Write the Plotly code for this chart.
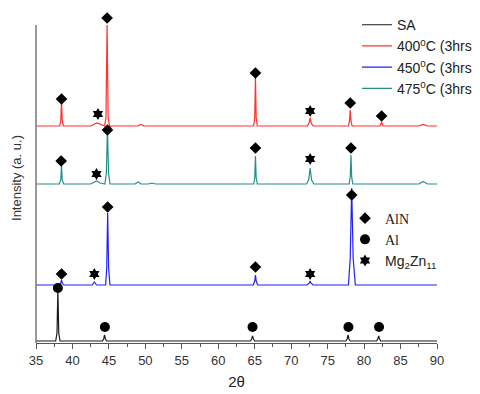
import plotly.graph_objects as go

# ---- data (2-theta, intensity in arbitrary units) ----
sa_x = [35, 37.7, 37.88, 38.0, 38.12, 38.3, 44.1, 44.28, 44.4, 44.52, 44.7,
        64.4, 64.58, 64.7, 64.82, 65.0, 77.5, 77.68, 77.8, 77.92, 78.1,
        81.7, 81.88, 82.0, 82.12, 82.3, 90]
sa_y = [2, 2, 10, 53, 10, 2, 2, 4, 8, 4, 2,
        2, 4, 7, 4, 2, 2, 4, 8, 4, 2,
        2, 4, 7, 4, 2, 2]

t400_x = [35, 38.25, 38.4, 38.5, 38.6, 38.75, 42.6, 43.0, 43.4, 43.8, 44.4,
          44.6, 44.75, 44.9, 45.05, 45.15, 45.25, 49.0, 49.4, 49.8,
          64.85, 65.0, 65.1, 65.2, 65.35, 72.2, 72.45, 72.6, 72.75, 73.0,
          77.85, 78.0, 78.1, 78.2, 78.35, 82.2, 82.3, 82.4, 82.5, 82.6,
          87.5, 88.1, 88.7, 90]
t400_y = [217, 217, 222, 243, 222, 217, 217, 219, 220, 219, 217,
          225, 318, 225, 217, 214, 217, 217, 218.5, 217,
          217, 225, 267, 225, 217, 217, 220, 225, 220, 217,
          217, 222, 233, 222, 217, 217, 219, 221, 219, 217,
          217, 218.5, 217, 217]

t450_x = [35, 38.2, 38.4, 38.5, 38.6, 38.8, 42.7, 42.9, 43.0, 43.1, 43.3,
          44.55, 44.7, 44.83, 44.96, 45.15, 64.8, 65.0, 65.1, 65.2, 65.4,
          72.2, 72.5, 72.6, 72.7, 73.0, 77.85, 78.1, 78.3, 78.5, 78.8, 90]
t450_y = [58, 58, 60, 63, 60, 58, 58, 60, 61, 60, 58,
          58, 75, 130, 75, 58, 58, 62, 68, 62, 58,
          58, 60, 62, 60, 58, 58, 85, 155, 85, 58, 58]

t475_x = [35, 38.2, 38.4, 38.5, 38.6, 38.8, 42.5, 42.8, 43.3, 43.8, 44.45,
          44.65, 44.8, 44.95, 45.15, 48.6, 49.0, 49.4, 50.4, 50.9, 51.4,
          64.85, 65.0, 65.1, 65.2, 65.35, 72.1, 72.4, 72.6, 72.8, 73.1,
          77.95, 78.1, 78.2, 78.3, 78.45, 87.5, 88.1, 88.7, 90]
t475_y = [159, 159, 163, 178, 163, 159, 159, 160, 162, 160, 159,
          170, 215, 170, 159, 159, 161, 159, 159, 160, 159,
          159, 165, 187, 165, 159, 159, 163, 175, 163, 159,
          159, 166, 188, 166, 159, 159, 161.5, 159, 159]

# phase markers
aln_x = [38.5, 44.75, 65.1, 78.1, 82.4, 38.45, 44.8, 65.1, 78.2, 38.5, 44.83, 65.1, 78.3]
aln_y = [244, 325, 270, 240, 227, 182, 213, 195, 195, 69, 136, 76, 148]
al_x = [38.0, 44.45, 64.7, 77.85, 82.05]
al_y = [55, 16, 16, 16, 16]
mg_x = [43.5, 72.6, 43.3, 72.6, 43.0, 72.6]
mg_y = [229, 232, 169, 184, 69, 69]

x_ticks = [35, 40, 45, 50, 55, 60, 65, 70, 75, 80, 85, 90]
y_axis_top = 318   # visible extent of the intensity axis line

series = [
    ("SA", sa_x, sa_y, "#1a1a1a"),
    ("400<sup>0</sup>C (3hrs)", t400_x, t400_y, "#ff3030"),
    ("450<sup>0</sup>C (3hrs)", t450_x, t450_y, "#2020ff"),
    ("475<sup>0</sup>C (3hrs)", t475_x, t475_y, "#22908a"),
]

fig = go.Figure()
for name, xs, ys, col in series:
    fig.add_trace(go.Scatter(x=xs, y=ys, mode="lines", name=name,
                             line=dict(color=col, width=1.2),
                             cliponaxis=False, legend="legend"))

fig.add_trace(go.Scatter(x=aln_x, y=aln_y, mode="markers",
                         name='<span style="font-family:Liberation Serif">AlN</span>',
                         marker=dict(symbol="diamond", size=9, color="black"),
                         cliponaxis=False, legend="legend2"))
fig.add_trace(go.Scatter(x=al_x, y=al_y, mode="markers",
                         name='<span style="font-family:Liberation Serif">Al</span>',
                         marker=dict(symbol="circle", size=10, color="black"),
                         cliponaxis=False, legend="legend2"))
fig.add_trace(go.Scatter(x=mg_x, y=mg_y, mode="markers",
                         name="Mg<sub>2</sub>Zn<sub>11</sub>",
                         marker=dict(symbol="hexagram", size=9, color="black"),
                         cliponaxis=False, legend="legend2"))

# left axis line drawn only up to the top of the data frame
fig.add_shape(type="line", xref="paper", x0=0, x1=0, yref="y", y0=0, y1=y_axis_top,
              line=dict(color="#777", width=1.5), layer="above")

# page body adds an 8px offset, so the figure is 8px smaller than the window
fig.update_layout(
    width=472, height=386,
    margin=dict(l=28, r=43, t=5, b=51, autoexpand=False),
    paper_bgcolor="white", plot_bgcolor="white",
    font=dict(family="Arial, Liberation Sans", size=13, color="#222"),
    legend=dict(x=0.7394, y=0.997, xref="container", yref="container",
                xanchor="left", yanchor="top",
                font=dict(size=14, color="#222"), bgcolor="rgba(0,0,0,0)",
                traceorder="normal"),
    legend2=dict(x=0.714, y=0.496, xref="container", yref="container",
                 xanchor="left", yanchor="top",
                 font=dict(size=14, color="#222"), bgcolor="rgba(0,0,0,0)",
                 tracegroupgap=0),
    xaxis=dict(range=[35, 90], tickvals=x_ticks, ticks="outside", ticklen=5,
               tickcolor="#555", showline=True, linecolor="#555", linewidth=1,
               showgrid=False, zeroline=False,
               minor=dict(dtick=2.5, ticks="outside", ticklen=3, tickcolor="#555"),
               tickfont=dict(size=13, color="#333"),
               title=dict(text="2θ", font=dict(size=15, color="#222"), standoff=9)),
    yaxis=dict(range=[0, 330], showticklabels=False, ticks="", showline=False,
               showgrid=False, zeroline=False,
               title=dict(text="Intensity (a. u.)", font=dict(size=13, color="#333"),
                          standoff=10)),
)

fig.write_html("out.html")
